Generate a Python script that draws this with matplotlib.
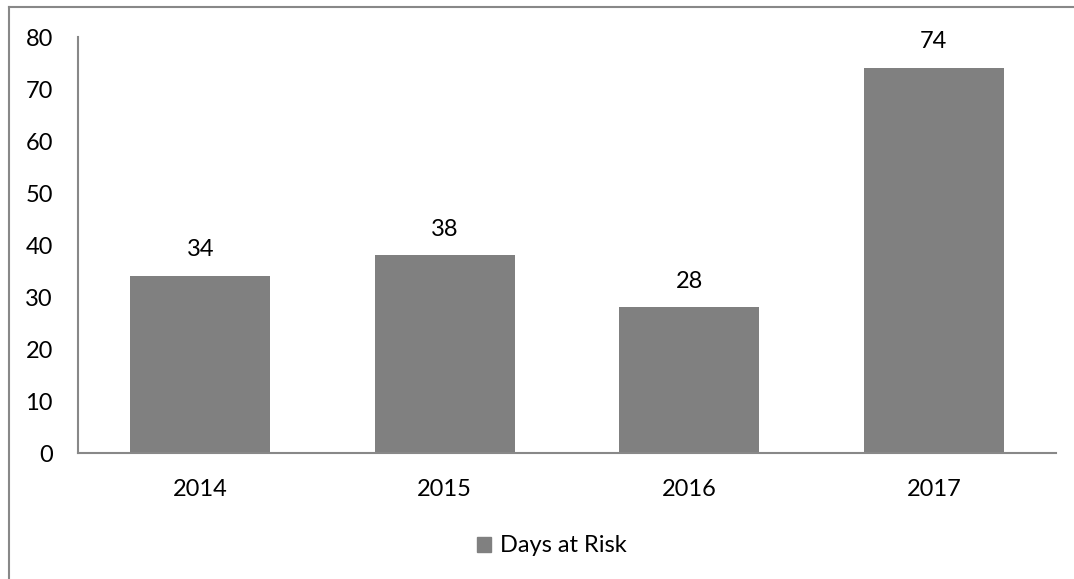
import matplotlib
matplotlib.use("Agg")
import matplotlib.pyplot as plt
from matplotlib.lines import Line2D
from matplotlib.patches import Patch

years = ["2014", "2015", "2016", "2017"]
days_at_risk = [34, 38, 28, 74]
y_ticks = [0, 10, 20, 30, 40, 50, 60, 70, 80]

plt.rcParams["font.family"] = ["Lato", "DejaVu Sans"]
FS = 17

W, H = 1074, 579
fig = plt.figure(figsize=(W / 100, H / 100), dpi=100)
ax = fig.add_axes([78 / W, 1 - 453 / H, (1056 - 78) / W, (453 - 37) / H])

x = range(len(years))
bars = ax.bar(x, days_at_risk, width=0.571, color="#808080")
ax.set_xlim(-0.5, len(years) - 0.5)
ax.set_ylim(0, 80)
ax.set_yticks(y_ticks)
ax.set_xticks(list(x))
ax.set_xticklabels(years)

for b, v in zip(bars, days_at_risk):
    ax.annotate(str(v), (b.get_x() + b.get_width() / 2, v),
                xytext=(0, 19), textcoords="offset points",
                ha="center", va="center", fontsize=FS, color="black")

for side in ["top", "right"]:
    ax.spines[side].set_visible(False)
for side in ["left", "bottom"]:
    ax.spines[side].set_color("#888888")
    ax.spines[side].set_linewidth(1.5)
ax.tick_params(axis="both", length=0, labelsize=FS, colors="black")
ax.tick_params(axis="y", pad=18)
ax.tick_params(axis="x", pad=19)

fig.legend(handles=[Patch(color="#808080", label="Days at Risk")],
           loc="center", bbox_to_anchor=(552 / W, 1 - 546 / H), frameon=False,
           fontsize=FS, handlelength=0.6, handleheight=0.6, handletextpad=0.4)

# outer chart border (top and left edges)
fig.add_artist(Line2D([9 / W, 1], [1 - 7 / H, 1 - 7 / H], color="#888888", lw=1.5))
fig.add_artist(Line2D([9 / W, 9 / W], [0, 1 - 7 / H], color="#888888", lw=1.5))

fig.savefig("out.png", dpi=100)
